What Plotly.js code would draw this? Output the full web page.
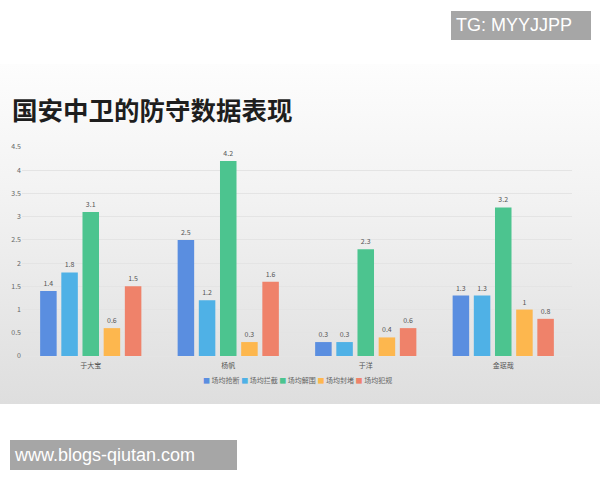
<!DOCTYPE html>
<html>
<head>
<meta charset="utf-8">
<script src="https://cdn.plot.ly/plotly-3.0.1.min.js"></script>
<style>
    body { margin: 0; background: #ffffff; }
    #wrap { position: relative; width: 600px; height: 480px; overflow: hidden; }
    #band {
        position: absolute; left: 0; top: 64px; width: 600px; height: 340px;
        background: linear-gradient(to bottom, #fdfdfd 0%, #f2f2f2 40%, #dedede 100%);
    }
    #plotly-chart { position: absolute; left: 0; top: 0; width: 600px; height: 480px; }
    .mark {
        position: absolute; background: #a6a6a6; color: #ffffff;
        font-family: 'Liberation Sans', 'DejaVu Sans', sans-serif; font-size: 18px;
        line-height: 29px; padding-left: 5px; box-sizing: border-box;
    }
</style>
</head>
<body>
<div id="wrap">
    <div id="band"></div>
    <div id="plotly-chart"></div>
    <div class="mark" style="left:451px; top:11px; width:140px; height:29px;">TG: MYYJJPP</div>
    <div class="mark" style="left:10px; top:440px; width:227px; height:30px; line-height:30px;">www.blogs-qiutan.com</div>
</div>
<script>
const players = ['于大宝', '杨帆', '于洋', '金珉哉'];
const seriesNames = ['场均抢断', '场均拦截', '场均解围', '场均封堵', '场均犯规'];
const seriesColors = ['#5a8ee0', '#4fb1e6', '#4cc48f', '#fdb74e', '#ef826a'];

const tackles = [1.4, 2.5, 0.3, 1.3];
const interceptions = [1.8, 1.2, 0.3, 1.3];
const clearances = [3.1, 4.2, 2.3, 3.2];
const blocks = [0.6, 0.3, 0.4, 1];
const fouls = [1.5, 1.6, 0.6, 0.8];

const yTicks = [0, 0.5, 1, 1.5, 2, 2.5, 3, 3.5, 4, 4.5];

const seriesValues = [tackles, interceptions, clearances, blocks, fouls];

const data = seriesValues.map((values, i) => ({
    x: players,
    y: values,
    type: 'bar',
    name: seriesNames[i],
    marker: { color: seriesColors[i] },
    text: values.map(v => String(v)),
    textposition: 'outside',
    textfont: { size: 7, color: '#555555' },
    cliponaxis: false,
    hoverinfo: 'none',
}));

// legend drawn as one line of text with coloured squares, like the original
const legendText = seriesNames
    .map((n, i) => `<span style="color:${seriesColors[i]}">■</span> ${n}`)
    .join(' ');

const cjk = "'Noto Sans CJK SC', 'Noto Sans', sans-serif";

const layout = {
    width: 600,
    height: 480,
    paper_bgcolor: 'rgba(0,0,0,0)',
    plot_bgcolor: 'rgba(0,0,0,0)',
    margin: { t: 147, r: 28, b: 124, l: 22 },
    showlegend: false,
    barmode: 'group',
    bargap: 0.23,
    bargroupgap: 0.22,
    font: { family: cjk, color: '#555555', size: 7 },

    title: {
        text: '国安中卫的防守数据表现',
        xref: 'container',
        yref: 'container',
        x: 0.02,
        xanchor: 'left',
        y: 1 - 111 / 480,
        yanchor: 'middle',
        font: { family: cjk, size: 25.5, color: '#1e1e1e', weight: 'bold' },
    },

    xaxis: {
        type: 'category',
        showgrid: false,
        zeroline: false,
        showline: false,
        ticks: '',
        ticklabelstandoff: 4,
        tickfont: { size: 7, color: '#555555' },
    },
    yaxis: {
        range: [0, 4.5],
        tickvals: yTicks,
        ticktext: yTicks.map(v => String(v)),
        gridcolor: '#e4e4e4',
        gridwidth: 1,
        zeroline: true,
        zerolinecolor: '#e4e4e4',
        showline: false,
        ticks: '',
        tickfont: { size: 7, color: '#666666' },
    },

    annotations: [{
        text: legendText,
        xref: 'paper',
        yref: 'paper',
        x: 0.5,
        y: -24 / 209,
        xanchor: 'center',
        yanchor: 'middle',
        showarrow: false,
        font: { size: 7, color: '#666666', family: cjk },
    }],
};

const config = {
    responsive: false,
    displayModeBar: false,
    staticPlot: true,
};

Plotly.newPlot('plotly-chart', data, layout, config);
</script>
</body>
</html>
